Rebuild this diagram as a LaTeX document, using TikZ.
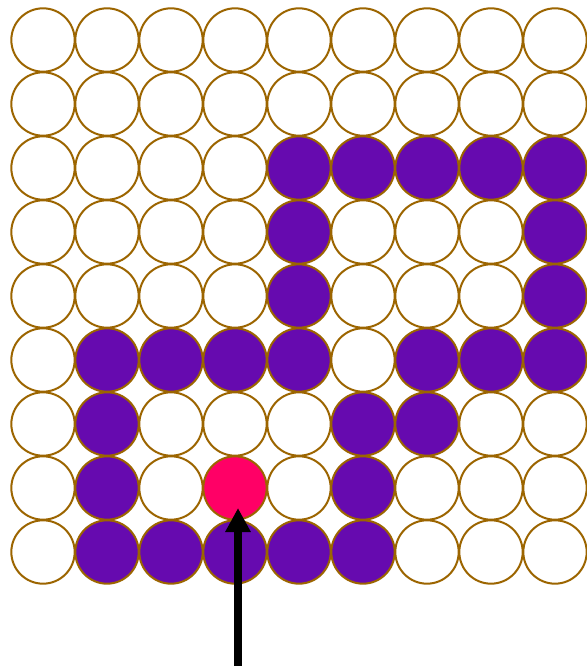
\documentclass[tikz,border=0pt]{standalone}
\definecolor{GridPurple}{HTML}{660AAF}
\definecolor{GridRed}{HTML}{FF0066}
\definecolor{GridRing}{HTML}{9C6500}
\usepackage{tikz}
\usetikzlibrary{arrows.meta, positioning}

\begin{document}
\begin{tikzpicture}[x=0.75pt, y=-0.75pt,
  dot/.style={draw=GridRing, line width=1.5pt, circle, fill=white,
              minimum size=47.5pt, inner sep=0pt},
  wall/.style={fill=GridPurple},
  goal/.style={fill=GridRed},
  % filled cells, named by row and column
  cell 24/.style=wall, cell 25/.style=wall, cell 26/.style=wall, cell 27/.style=wall, cell 28/.style=wall,
  cell 34/.style=wall, cell 38/.style=wall,
  cell 44/.style=wall, cell 48/.style=wall,
  cell 51/.style=wall, cell 52/.style=wall, cell 53/.style=wall, cell 54/.style=wall,
  cell 56/.style=wall, cell 57/.style=wall, cell 58/.style=wall,
  cell 61/.style=wall, cell 65/.style=wall, cell 66/.style=wall,
  cell 71/.style=wall, cell 73/.style=goal, cell 75/.style=wall,
  cell 81/.style=wall, cell 82/.style=wall, cell 83/.style=wall, cell 84/.style=wall, cell 85/.style=wall]
  \useasboundingbox (0,0) rectangle (586,666);

  \foreach \r in {0,...,8}
    \foreach \c in {0,...,8}
      \node[dot, cell \r\c/.try] (c\r\c) at (43+64*\c, 40+64*\r) {};

  \coordinate (base) at (238,666);
  \coordinate (tip) at (238,508);
  \draw[-{Triangle[length=18pt, width=18pt]}, line width=5.5pt] (base) -- (tip);
\end{tikzpicture}
\end{document}
